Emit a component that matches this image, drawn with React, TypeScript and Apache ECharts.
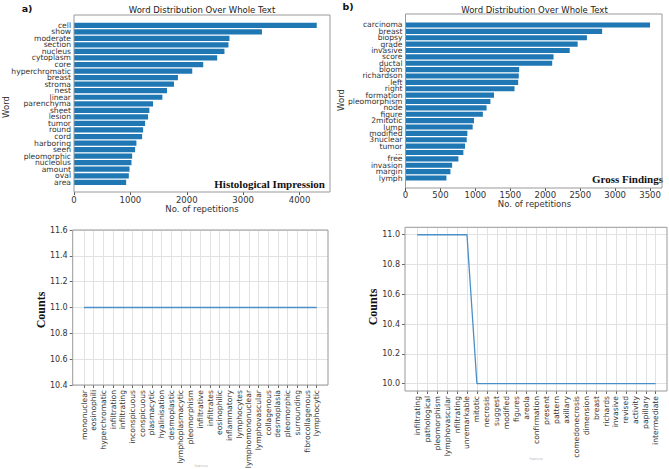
import React, { useEffect, useRef } from 'react';
import * as echarts from 'echarts';

const tlWords = ['cell', 'show', 'moderate', 'section', 'nucleus', 'cytoplasm', 'core', 'hyperchromatic', 'breast', 'stroma', 'nest', 'linear', 'parenchyma', 'sheet', 'lesion', 'tumor', 'round', 'cord', 'harboring', 'seen', 'pleomorphic', 'nucleolus', 'amount', 'oval', 'area'];
const tlCounts = [4305, 3333, 2757, 2739, 2668, 2539, 2292, 2097, 1843, 1773, 1649, 1567, 1402, 1337, 1314, 1261, 1226, 1208, 1107, 1084, 1031, 1019, 984, 972, 925];
const tlTicks = [0, 1000, 2000, 3000, 4000];
const tlMax = 4540;

const trWords = ['carcinoma', 'breast', 'biopsy', 'grade', 'invasive', 'score', 'ductal', 'bloom', 'richardson', 'left', 'right', 'formation', 'pleomorphism', 'node', 'figure', '2mitotic', 'lump', 'modified', '3nuclear', 'tumor', '...', 'free', 'invasion', 'margin', 'lymph'];
const trCounts = [3499, 2813, 2596, 2463, 2350, 2118, 2099, 1626, 1621, 1612, 1560, 1267, 1215, 1160, 1107, 980, 961, 885, 876, 852, 828, 757, 667, 643, 586];
const trTicks = [0, 500, 1000, 1500, 2000, 2500, 3000, 3500];
const trMax = 3670;

const blFeatures = ['mononuclear', 'eosinophili', 'hyperchromatic', 'infiltration', 'infiltrating', 'inconspicuous', 'conspicuous', 'plasmacytic', 'hyalinisation', 'desmoplastic', 'lymphoplasmacytic', 'pleomorphism', 'infiltrative', 'infiltrates', 'eosinophilic', 'inflammatory', 'lymphocytes', 'lymphomononuclear', 'lymphovascular', 'collagenous', 'desmoplasia', 'pleomorphic', 'surrounding', 'fibrocollagenous', 'lymphocytic'];
const blCounts = [11, 11, 11, 11, 11, 11, 11, 11, 11, 11, 11, 11, 11, 11, 11, 11, 11, 11, 11, 11, 11, 11, 11, 11, 11];
const blTicks = [10.4, 10.6, 10.8, 11.0, 11.2, 11.4, 11.6];

const brFeatures = ['infiltrating', 'pathological', 'pleomorphism', 'lymphovascular', 'nfiltrating', 'unremarkable', 'mitotic', 'necrosis', 'suggest', 'modified', 'figures', 'areola', 'confirmation', 'present', 'pattern', 'axillary', 'comedonecrosis', 'dimension', 'breast', 'richards', 'invasive', 'revised', 'activity', 'papillary', 'intermediate'];
const brCounts = [11, 11, 11, 11, 11, 11, 10, 10, 10, 10, 10, 10, 10, 10, 10, 10, 10, 10, 10, 10, 10, 10, 10, 10, 10];
const brTicks = [10.0, 10.2, 10.4, 10.6, 10.8, 11.0];
const brMin = 9.95;
const brMax = 11.05;

const SANS = 'DejaVu Sans';
const SERIF = 'Liberation Serif';
const TXT = '#333';
const FRAME = '#999';
const GRIDC = '#e2e2e2';
const BAR = '#1f77b4';
const LINE = '#4a8fc8';

// layout boxes (pixels)
const TL = { l: 74, t: 15, r: 330, b: 192, it: 22, ib: 185.6 };
const TR = { l: 405.5, t: 14, r: 662, b: 188, it: 21.8, ib: 181.2 };
const BL = { l: 72.7, t: 230, r: 328, b: 385, il: 84, ir: 316.7 };
const BR = { l: 405, t: 227.3, r: 667, b: 391, il: 417.3, ir: 655.7, ht: 234.7, hb: 383.7 };

const g = (l: number, t: number, r: number, b: number) => ({
  left: l, top: t, width: r - l, height: b - t, containLabel: false, outerBoundsMode: 'none',
});

const text = (x: number, y: number, s: string, o: any = {}) => ({
  type: 'text', x, y, rotation: o.rotation || 0, silent: true,
  style: {
    text: s, fill: o.fill || TXT, fontSize: o.size || 8.5, fontFamily: o.family || SANS,
    fontWeight: o.weight || 'normal', align: o.align || 'center', verticalAlign: o.va || 'middle',
  },
});
const frame = (b: any) => ({
  type: 'rect', silent: true, z: 100,
  shape: { x: b.l, y: b.t, width: b.r - b.l, height: b.b - b.t },
  style: { fill: 'none', stroke: FRAME, lineWidth: 1 },
});

export default function App() {
  const ref = useRef<HTMLDivElement>(null);
  useEffect(() => {
    if (!ref.current) return;
    const chart = echarts.init(ref.current, null, { renderer: 'svg' });
    const hiddenVal = (gi: number, min: number, max: number) => ({ type: 'value', gridIndex: gi, show: false, min, max });
    const topX = (gi: number, ticks: number[], max: number, margin: number) => ({
      type: 'value', gridIndex: gi, min: ticks[0], max,
      interval: ticks[1] - ticks[0],
      axisLine: { show: false }, axisTick: { show: true, length: 3, lineStyle: { color: '#555' } },
      splitLine: { show: false },
      axisLabel: { color: TXT, fontSize: 8.5, fontFamily: SANS, margin, showMaxLabel: false, formatter: (v: number) => (ticks.indexOf(v) >= 0 ? String(v) : '') },
    });
    const topY = (gi: number, words: string[]) => ({
      type: 'category', gridIndex: gi, data: words, inverse: true,
      axisLine: { show: false }, axisTick: { show: false }, splitLine: { show: false },
      axisLabel: { color: TXT, fontSize: 7.6, fontFamily: SANS, margin: 3, interval: 0, lineHeight: 8 },
    });
    const botX = (gi: number, feats: string[]) => ({
      type: 'category', gridIndex: gi, data: feats, boundaryGap: false,
      axisLine: { show: false }, axisTick: { show: true, length: 3, lineStyle: { color: '#666' } },
      splitLine: { show: true, lineStyle: { color: GRIDC, width: 1 } },
      axisLabel: { color: TXT, fontSize: 7.6, fontFamily: SANS, rotate: 90, margin: 5, interval: 0 },
    });
    const botY = (gi: number, ticks: number[]) => ({
      type: 'value', gridIndex: gi, min: ticks[0], max: ticks[ticks.length - 1],
      interval: Math.round((ticks[1] - ticks[0]) * 10) / 10,
      axisLine: { show: false }, axisTick: { show: true, length: 3, lineStyle: { color: '#666' } },
      splitLine: { show: true, lineStyle: { color: GRIDC, width: 1 } },
      axisLabel: { color: TXT, fontSize: 8, fontFamily: SANS, margin: 5, formatter: (v: number) => v.toFixed(1) },
    });

    const option: any = {
      animation: false,
      backgroundColor: '#fff',
      grid: [
        g(TL.l, TL.t, TL.r, TL.b),
        g(TL.l, TL.it, TL.r, TL.ib),
        g(TR.l, TR.t, TR.r, TR.b),
        g(TR.l, TR.it, TR.r, TR.ib),
        g(BL.l, BL.t, BL.r, BL.b),
        g(BL.il, BL.t, BL.ir, BL.b),
        g(BR.l, BR.ht, BR.r, BR.hb),
        g(BR.il, BR.t, BR.ir, BR.b),
      ],
      xAxis: [
        topX(0, tlTicks, tlMax, 3.5),
        hiddenVal(1, tlTicks[0], tlMax),
        topX(2, trTicks, trMax, 2),
        hiddenVal(3, trTicks[0], trMax),
        hiddenVal(4, 0, 1),
        botX(5, blFeatures),
        hiddenVal(6, 0, 1),
        botX(7, brFeatures),
      ],
      yAxis: [
        hiddenVal(0, 0, 1),
        topY(1, tlWords),
        hiddenVal(2, 0, 1),
        topY(3, trWords),
        botY(4, blTicks),
        hiddenVal(5, blTicks[0], blTicks[blTicks.length - 1]),
        botY(6, brTicks),
        hiddenVal(7, brMin, brMax),
      ],
      series: [
        { type: 'bar', xAxisIndex: 1, yAxisIndex: 1, data: tlCounts, barWidth: '80%', itemStyle: { color: BAR } },
        { type: 'bar', xAxisIndex: 3, yAxisIndex: 3, data: trCounts, barWidth: '80%', itemStyle: { color: BAR } },
        { type: 'line', xAxisIndex: 5, yAxisIndex: 5, data: blCounts, showSymbol: false, lineStyle: { color: LINE, width: 1.3 } },
        { type: 'line', xAxisIndex: 7, yAxisIndex: 7, data: brCounts, showSymbol: false, lineStyle: { color: LINE, width: 1.3 } },
      ],
      graphic: [
        frame(TL), frame(TR), frame(BL), frame(BR),
        text(27, 8, 'a)', { weight: 'bold', size: 9.5, fill: '#111' }),
        text(348, 6, 'b)', { weight: 'bold', size: 9.5, fill: '#111' }),
        text(202, 9.5, 'Word Distribution Over Whole Text', { size: 8.5, fill: '#222' }),
        text(534.5, 9.5, 'Word Distribution Over Whole Text', { size: 8.5, fill: '#222' }),
        text(325, 184, 'Histological Impression', { family: SERIF, weight: 'bold', size: 11, align: 'right', fill: '#111' }),
        text(663, 179, 'Gross Findings', { family: SERIF, weight: 'bold', size: 11, align: 'right', fill: '#111' }),
        text(202, 209, 'No. of repetitions', { size: 8.5 }),
        text(534.5, 203.5, 'No. of repetitions', { size: 8.5 }),
        text(6, 107, 'Word', { size: 8.5, rotation: Math.PI / 2 }),
        text(341, 100, 'Word', { size: 8.5, rotation: Math.PI / 2 }),
        text(41, 310, 'Counts', { family: SERIF, weight: 'bold', size: 12, rotation: Math.PI / 2, fill: '#111' }),
        text(373, 307, 'Counts', { family: SERIF, weight: 'bold', size: 12, rotation: Math.PI / 2, fill: '#111' }),
        text(201, 466, 'Feature', { size: 3.5, fill: '#bbb' }),
        text(536, 459, 'Feature', { size: 3.5, fill: '#bbb' }),
      ],
    };
    chart.setOption(option);
    return () => chart.dispose();
  }, []);
  return <div ref={ref} style={{ position: 'fixed', left: 0, top: 0, width: 669, height: 469, background: '#fff' }} />;
}
